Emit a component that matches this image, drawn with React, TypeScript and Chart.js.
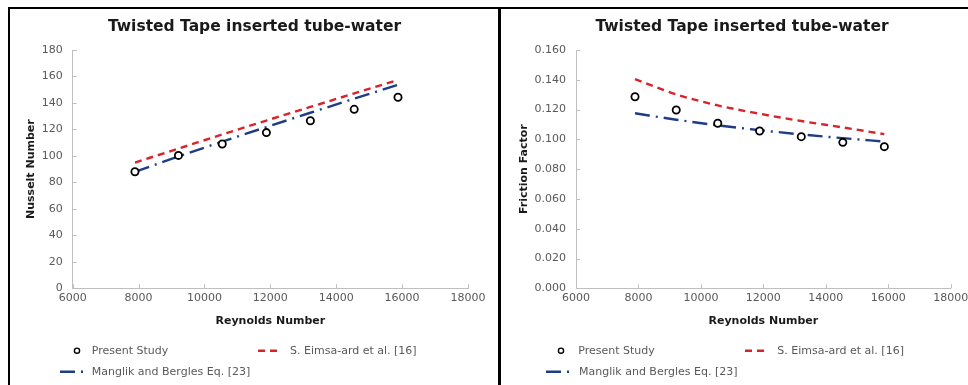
import React, { useEffect, useRef } from "react";
import { Chart, registerables } from "chart.js";
Chart.register(...registerables);

// ---------- data ----------
const reynolds = [7890, 9210, 10540, 11880, 13215, 14545, 15875];
const nuPresent = [88.0, 100.4, 109.0, 117.6, 126.6, 135.2, 144.3];
const nuEimsa = [95.0, 105.5, 116.2, 126.7, 137.0, 147.2, 157.4];
const nuManglik = [88.0, 99.6, 110.8, 121.8, 132.6, 143.2, 153.7];
const fPresent = [0.1286, 0.1197, 0.1108, 0.1056, 0.1018, 0.098, 0.0951];
const fEimsa = [0.1405, 0.1302, 0.1228, 0.1172, 0.1123, 0.108, 0.1035];
const fManglik = [0.1175, 0.1132, 0.1094, 0.1062, 0.1033, 0.1008, 0.0985];
const seriesLabels = ["Present Study", "S. Eimsa-ard et al. [16]", "Manglik and Bergles Eq. [23]"];
const chartTitle = "Twisted Tape inserted tube-water";
const xTitle = "Reynolds Number";
const nuTitle = "Nusselt Number";
const fTitle = "Friction Factor";
const xRange = [6000, 18000, 2000];
const nuRange = [0, 180, 20];
const fRange = [0, 0.16, 0.02];

const FONT = "'DejaVu Sans', Verdana, sans-serif";
const RED = "#D9232A";
const BLUE = "#1F3D86";
const GRAY_TEXT = "#595959";
const AXIS_GRAY = "#BFBFBF";

const W = 488;
const H = 376;

type LegendPos = { sx: number; sw: number; tx: number; y: number };

const extrasPlugin = {
  id: "excelExtras",
  afterDraw(chart: any, _args: any, opts: any) {
    const ctx = chart.ctx as CanvasRenderingContext2D;
    const { left, bottom } = chart.chartArea;
    const xs = chart.scales.x;
    const ys = chart.scales.y;
    ctx.save();
    // inside tick marks
    ctx.strokeStyle = AXIS_GRAY;
    ctx.lineWidth = 1;
    xs.ticks.forEach((t: any) => {
      const px = Math.round(xs.getPixelForValue(t.value)) + 0.5;
      ctx.beginPath();
      ctx.moveTo(px, bottom);
      ctx.lineTo(px, bottom - 4);
      ctx.stroke();
    });
    ys.ticks.forEach((t: any) => {
      const py = Math.round(ys.getPixelForValue(t.value)) + 0.5;
      ctx.beginPath();
      ctx.moveTo(left, py);
      ctx.lineTo(left + 4, py);
      ctx.stroke();
    });
    // title
    ctx.fillStyle = "#1a1a1a";
    ctx.font = `bold 15.5px ${FONT}`;
    ctx.textAlign = "center";
    ctx.textBaseline = "middle";
    ctx.fillText(opts.title, opts.titleX, opts.titleY);
    // legend
    const pos: LegendPos[] = opts.legend;
    chart.data.datasets.forEach((ds: any, i: number) => {
      const p = pos[i];
      if (!p) return;
      if (ds.showLine) {
        ctx.save();
        ctx.strokeStyle = ds.borderColor;
        ctx.lineWidth = ds.borderWidth;
        ctx.setLineDash(ds.borderDash || []);
        ctx.beginPath();
        ctx.moveTo(p.sx, p.y);
        ctx.lineTo(p.sx + p.sw, p.y);
        ctx.stroke();
        ctx.restore();
      } else {
        ctx.beginPath();
        ctx.arc(p.sx + p.sw / 2, p.y, 2.6, 0, Math.PI * 2);
        ctx.fillStyle = "#fff";
        ctx.fill();
        ctx.strokeStyle = "#000";
        ctx.lineWidth = 1.4;
        ctx.stroke();
      }
      ctx.fillStyle = GRAY_TEXT;
      ctx.font = `11px ${FONT}`;
      ctx.textAlign = "left";
      ctx.textBaseline = "middle";
      ctx.fillText(ds.label, p.tx, p.y);
    });
    ctx.restore();
  },
};

type PanelProps = {
  yTitle: string;
  present: number[];
  eimsa: number[];
  manglik: number[];
  yRange: number[];
  yDecimals: number;
  yAxisWidth: number;
  yTitlePad: number;
  padRight: number;
  titleX: number;
  legend: LegendPos[];
  left: number;
};

function Panel(props: PanelProps) {
  const ref = useRef<HTMLCanvasElement | null>(null);
  useEffect(() => {
    if (!ref.current) return;
    const toPts = (ys: number[]) => reynolds.map((x, i) => ({ x, y: ys[i] }));
    const chart = new Chart(ref.current, {
      type: "scatter",
      data: {
        datasets: [
          {
            label: seriesLabels[0],
            data: toPts(props.present),
            showLine: false,
            pointRadius: 3.6,
            pointBorderWidth: 1.8,
            pointBorderColor: "#000",
            pointBackgroundColor: "#fff",
            borderColor: "#000",
            backgroundColor: "#fff",
          },
          {
            label: seriesLabels[1],
            data: toPts(props.eimsa),
            showLine: true,
            pointRadius: 0,
            borderColor: RED,
            borderWidth: 2.4,
            borderDash: [7, 5],
            cubicInterpolationMode: "monotone",
          },
          {
            label: seriesLabels[2],
            data: toPts(props.manglik),
            showLine: true,
            pointRadius: 0,
            borderColor: BLUE,
            borderWidth: 2.4,
            borderDash: [15, 6, 2, 6],
            cubicInterpolationMode: "monotone",
          },
        ],
      } as any,
      options: {
        animation: false,
        responsive: false,
        layout: { padding: { left: 0, right: props.padRight, top: 41, bottom: H - 279.3 - 40 } },
        plugins: {
          legend: { display: false },
          tooltip: { enabled: false },
          title: { display: false },
          excelExtras: {
            title: chartTitle,
            titleX: props.titleX,
            titleY: 18,
            legend: props.legend,
          },
        } as any,
        scales: {
          x: {
            type: "linear",
            min: xRange[0],
            max: xRange[1],
            ticks: {
              stepSize: xRange[2],
              color: GRAY_TEXT,
              font: { family: FONT, size: 11 },
              padding: 3,
              maxRotation: 0,
              callback: (v: any) => String(Math.round(Number(v))),
            },
            grid: { display: true, drawOnChartArea: false, drawTicks: false },
            border: { display: true, color: AXIS_GRAY, width: 1 },
            title: {
              display: true,
              text: xTitle,
              color: "#1a1a1a",
              font: { family: FONT, size: 11, weight: "bold" },
              padding: { top: 0, bottom: 1 },
            },
            afterFit: (s: any) => {
              s.height = 40;
            },
          },
          y: {
            type: "linear",
            min: props.yRange[0],
            max: props.yRange[1],
            ticks: {
              stepSize: props.yRange[2],
              color: GRAY_TEXT,
              font: { family: FONT, size: 11 },
              padding: 10,
              callback: (v: any) => Number(v).toFixed(props.yDecimals),
            },
            grid: { display: true, drawOnChartArea: false, drawTicks: false },
            border: { display: true, color: AXIS_GRAY, width: 1 },
            title: {
              display: true,
              text: props.yTitle,
              color: "#1a1a1a",
              font: { family: FONT, size: 11, weight: "bold" },
              padding: { top: props.yTitlePad, bottom: 0 },
            },
            afterFit: (s: any) => {
              s.width = props.yAxisWidth;
            },
          },
        } as any,
      },
      plugins: [extrasPlugin as any],
    });
    return () => chart.destroy();
  }, []);
  return (
    <canvas
      ref={ref}
      width={W}
      height={H}
      style={{ position: "absolute", left: props.left, top: 9, width: W, height: H, display: "block" }}
    />
  );
}

export default function App() {
  return (
    <div
      style={{
        position: "fixed",
        left: 0,
        top: 0,
        width: 968,
        height: 385,
        overflow: "hidden",
        background: "#fff",
      }}
    >
      <div style={{ position: "absolute", left: 8, top: 7, width: 960, height: 2, background: "#000" }} />
      <div style={{ position: "absolute", left: 8, top: 7, width: 2, height: 378, background: "#000" }} />
      <div style={{ position: "absolute", left: 498, top: 7, width: 3, height: 378, background: "#000" }} />
      <Panel
        left={10}
        yTitle={nuTitle}
        present={nuPresent}
        eimsa={nuEimsa}
        manglik={nuManglik}
        yRange={nuRange}
        yDecimals={0}
        yAxisWidth={62.7}
        yTitlePad={15}
        padRight={30}
        titleX={244.5}
        legend={[
          { sx: 58, sw: 18, tx: 81.7, y: 341.7 },
          { sx: 248, sw: 24, tx: 280, y: 341.7 },
          { sx: 50, sw: 26, tx: 81.7, y: 362.7 },
        ]}
      />
      <Panel
        left={501}
        yTitle={fTitle}
        present={fPresent}
        eimsa={fEimsa}
        manglik={fManglik}
        yRange={fRange}
        yDecimals={3}
        yAxisWidth={75}
        yTitlePad={16.4}
        padRight={38.3}
        titleX={241}
        legend={[
          { sx: 51, sw: 18, tx: 77.3, y: 341.7 },
          { sx: 244, sw: 22, tx: 276.3, y: 341.7 },
          { sx: 45, sw: 26, tx: 78, y: 362.7 },
        ]}
      />
    </div>
  );
}
